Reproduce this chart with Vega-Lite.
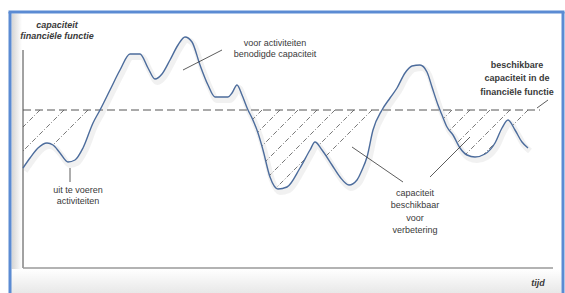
{
  "$schema": "https://vega.github.io/schema/vega-lite/v6.json",
  "width": 565,
  "height": 293,
  "padding": 0,
  "autosize": {"type": "none"},
  "background": "white",
  "view": {"stroke": null},
  "config": {"font": "Liberation Sans"},
  "datasets": {
    "curve": [
      {"t": 0, "c": 100}, {"t": 7, "c": 110}, {"t": 15, "c": 120}, {"t": 24, "c": 125},
      {"t": 30, "c": 123}, {"t": 37, "c": 115}, {"t": 45, "c": 106}, {"t": 52, "c": 108},
      {"t": 60, "c": 120}, {"t": 70, "c": 145}, {"t": 77, "c": 158}, {"t": 87, "c": 178},
      {"t": 97, "c": 198}, {"t": 107, "c": 214}, {"t": 117, "c": 214}, {"t": 125, "c": 200},
      {"t": 132, "c": 189}, {"t": 139, "c": 194}, {"t": 147, "c": 208}, {"t": 155, "c": 223},
      {"t": 162, "c": 231}, {"t": 169, "c": 226}, {"t": 177, "c": 203}, {"t": 185, "c": 183},
      {"t": 192, "c": 171}, {"t": 205, "c": 171}, {"t": 209, "c": 175}, {"t": 214, "c": 183},
      {"t": 219, "c": 173}, {"t": 225, "c": 158}, {"t": 229, "c": 150}, {"t": 235, "c": 135},
      {"t": 240, "c": 118}, {"t": 247, "c": 91}, {"t": 255, "c": 79}, {"t": 264, "c": 81},
      {"t": 277, "c": 100}, {"t": 287, "c": 118}, {"t": 292, "c": 126}, {"t": 299, "c": 118},
      {"t": 309, "c": 103}, {"t": 317, "c": 91}, {"t": 326, "c": 83}, {"t": 334, "c": 88},
      {"t": 339, "c": 98}, {"t": 344, "c": 111}, {"t": 350, "c": 138}, {"t": 359, "c": 158},
      {"t": 367, "c": 170}, {"t": 374, "c": 180}, {"t": 382, "c": 195}, {"t": 389, "c": 202},
      {"t": 397, "c": 203}, {"t": 404, "c": 196}, {"t": 409, "c": 181}, {"t": 415, "c": 163},
      {"t": 419, "c": 153}, {"t": 424, "c": 141}, {"t": 430, "c": 133}, {"t": 437, "c": 120},
      {"t": 444, "c": 113}, {"t": 452, "c": 111}, {"t": 462, "c": 114}, {"t": 472, "c": 125},
      {"t": 479, "c": 140}, {"t": 485, "c": 148}, {"t": 492, "c": 138}, {"t": 499, "c": 126},
      {"t": 505, "c": 120}
    ],
    "hatch": [
      {"t": 17, "c": 158, "t2": 0, "c2": 141},
      {"t": 41, "c": 158, "t2": 0, "c2": 117},
      {"t": 65, "c": 158, "t2": 0, "c2": 93},
      {"t": 239, "c": 158, "t2": 149, "c2": 68},
      {"t": 257, "c": 158, "t2": 167, "c2": 68},
      {"t": 275, "c": 158, "t2": 185, "c2": 68},
      {"t": 294, "c": 158, "t2": 204, "c2": 68},
      {"t": 312, "c": 158, "t2": 222, "c2": 68},
      {"t": 331, "c": 158, "t2": 241, "c2": 68},
      {"t": 349, "c": 158, "t2": 259, "c2": 68},
      {"t": 429, "c": 158, "t2": 339, "c2": 68},
      {"t": 447, "c": 158, "t2": 357, "c2": 68},
      {"t": 467, "c": 158, "t2": 377, "c2": 68},
      {"t": 487, "c": 158, "t2": 397, "c2": 68},
      {"t": 505, "c": 158, "t2": 415, "c2": 68}
    ],
    "guides": [
      {"kind": "yaxis", "t": 0, "c": 218, "t2": 0, "c2": 0},
      {"kind": "xaxis", "t": 0, "c": 0, "t2": 530, "c2": 0},
      {"kind": "capacity", "t": 0, "c": 158, "t2": 517, "c2": 158},
      {"kind": "frame", "t": -13, "c": 256, "t2": -13, "c2": -25},
      {"kind": "frame", "t": 540, "c": 256, "t2": 540, "c2": -25},
      {"kind": "frame", "t": -14.5, "c": 256, "t2": 541.5, "c2": 256}
    ],
    "shades": [
      {"kind": "left", "t": -11.5, "t2": -1, "c": 254.5, "c2": -25},
      {"kind": "bottom", "t": -11.5, "t2": 538.5, "c": -1, "c2": -25}
    ],
    "leaders": [
      {"t": 199, "c": 218, "t2": 160, "c2": 198},
      {"t": 47, "c": 100, "t2": 47, "c2": 86},
      {"t": 380, "c": 86, "t2": 329, "c2": 121},
      {"t": 407, "c": 91, "t2": 447, "c2": 131},
      {"t": 525, "c": 168, "t2": 514, "c2": 160}
    ],
    "labels": [
      {"t": 34, "c": 243, "label": "capaciteit", "kind": "bi"},
      {"t": 34, "c": 232, "label": "financiële functie", "kind": "bi"},
      {"t": 515, "c": -15, "label": "tijd", "kind": "bi"},
      {"t": 494, "c": 203, "label": "beschikbare", "kind": "b"},
      {"t": 494, "c": 190, "label": "capaciteit in de", "kind": "b"},
      {"t": 494, "c": 176, "label": "financiële functie", "kind": "b"},
      {"t": 252, "c": 225, "label": "voor activiteiten", "kind": "n"},
      {"t": 252, "c": 214, "label": "benodigde capaciteit", "kind": "n"},
      {"t": 55, "c": 78, "label": "uit te voeren", "kind": "n"},
      {"t": 55, "c": 67, "label": "activiteiten", "kind": "n"},
      {"t": 392, "c": 75, "label": "capaciteit", "kind": "n"},
      {"t": 392, "c": 63, "label": "beschikbaar", "kind": "n"},
      {"t": 392, "c": 50, "label": "voor", "kind": "n"},
      {"t": 392, "c": 38, "label": "verbetering", "kind": "n"}
    ]
  },
  "encoding": {
    "x": {"field": "t", "type": "quantitative", "scale": {"domain": [-23, 542], "nice": false, "zero": false}, "axis": null},
    "y": {"field": "c", "type": "quantitative", "scale": {"domain": [-25, 268], "nice": false, "zero": false}, "axis": null}
  },
  "layer": [
    {
      "data": {"name": "shades"},
      "transform": [{"filter": "datum.kind == 'left'"}],
      "mark": {"type": "rect", "color": {"gradient": "linear", "x1": 0, "y1": 0, "x2": 1, "y2": 0, "stops": [{"offset": 0, "color": "#d4d4d4"}, {"offset": 1, "color": "#ffffff"}]}},
      "encoding": {"x2": {"field": "t2"}, "y2": {"field": "c2"}}
    },
    {
      "data": {"name": "shades"},
      "transform": [{"filter": "datum.kind == 'bottom'"}],
      "mark": {"type": "rect", "color": {"gradient": "linear", "x1": 0, "y1": 0, "x2": 0, "y2": 1, "stops": [{"offset": 0, "color": "#ffffff"}, {"offset": 1, "color": "#e8e8e8"}]}},
      "encoding": {"x2": {"field": "t2"}, "y2": {"field": "c2"}}
    },
    {
      "data": {"name": "hatch"},
      "mark": {"type": "rule", "color": "#555555", "strokeWidth": 0.8, "strokeDash": [5, 2, 1, 2]},
      "encoding": {"x2": {"field": "t2"}, "y2": {"field": "c2"}}
    },
    {
      "data": {"name": "curve"},
      "mark": {"type": "area", "color": "white", "opacity": 1, "interpolate": "monotone"},
      "encoding": {"y2": {"datum": 40}}
    },
    {
      "data": {"name": "guides"},
      "transform": [{"filter": "datum.kind == 'yaxis'"}],
      "mark": {"type": "rule", "color": "#444444", "strokeWidth": 1},
      "encoding": {"x2": {"field": "t2"}, "y2": {"field": "c2"}}
    },
    {
      "data": {"name": "guides"},
      "transform": [{"filter": "datum.kind == 'xaxis'"}],
      "mark": {"type": "rule", "color": "#9a9a9a", "strokeWidth": 1.5},
      "encoding": {"x2": {"field": "t2"}, "y2": {"field": "c2"}}
    },
    {
      "data": {"name": "guides"},
      "transform": [{"filter": "datum.kind == 'capacity'"}],
      "mark": {"type": "rule", "color": "#555555", "strokeWidth": 1, "strokeDash": [8, 4]},
      "encoding": {"x2": {"field": "t2"}, "y2": {"field": "c2"}}
    },
    {
      "data": {"name": "curve"},
      "mark": {"type": "line", "color": "#999999", "strokeWidth": 6, "opacity": 0.14, "xOffset": 2, "yOffset": 3, "interpolate": "monotone"},
      "encoding": {}
    },
    {
      "data": {"name": "curve"},
      "mark": {"type": "line", "color": "#4c6c9c", "strokeWidth": 1.4, "interpolate": "monotone"},
      "encoding": {}
    },
    {
      "data": {"name": "leaders"},
      "mark": {"type": "rule", "color": "#333333", "strokeWidth": 0.8},
      "encoding": {"x2": {"field": "t2"}, "y2": {"field": "c2"}}
    },
    {
      "data": {"name": "labels"},
      "transform": [{"filter": "datum.kind == 'bi'"}],
      "mark": {"type": "text", "fontSize": 9, "fontWeight": "bold", "fontStyle": "italic", "color": "#3a3a3a", "align": "center", "baseline": "middle"},
      "encoding": {"text": {"field": "label"}}
    },
    {
      "data": {"name": "labels"},
      "transform": [{"filter": "datum.kind == 'b'"}],
      "mark": {"type": "text", "fontSize": 9, "fontWeight": "bold", "color": "#3a3a3a", "align": "center", "baseline": "middle"},
      "encoding": {"text": {"field": "label"}}
    },
    {
      "data": {"name": "labels"},
      "transform": [{"filter": "datum.kind == 'n'"}],
      "mark": {"type": "text", "fontSize": 9, "color": "#3a3a3a", "align": "center", "baseline": "middle"},
      "encoding": {"text": {"field": "label"}}
    },
    {
      "data": {"name": "guides"},
      "transform": [{"filter": "datum.kind == 'frame'"}],
      "mark": {"type": "rule", "color": "#5b8bd3", "strokeWidth": 3},
      "encoding": {"x2": {"field": "t2"}, "y2": {"field": "c2"}}
    }
  ]
}
